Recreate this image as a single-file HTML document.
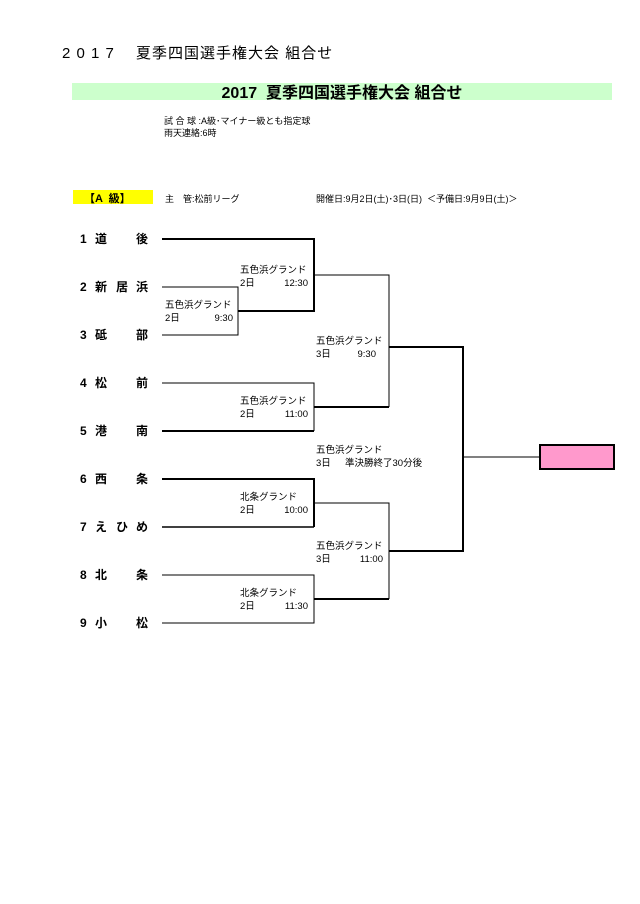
<!DOCTYPE html>
<html><head><meta charset="utf-8"><style>
body{margin:0;background:#fff;width:640px;height:904px;overflow:hidden}
svg{display:block}
text{font-family:"Liberation Sans","Noto Sans CJK JP",sans-serif;fill:#000;white-space:pre}
</style></head><body>
<svg width="640" height="904" xmlns="http://www.w3.org/2000/svg">
<text x="62" y="58" font-size="15" letter-spacing="1">2 0 1 7　 夏季四国選手権大会 組合せ</text>
<rect x="72" y="83" width="540" height="17" fill="#ccffcc"/>
<text x="342" y="98" font-size="16" font-weight="bold" text-anchor="middle">2017  夏季四国選手権大会 組合せ</text>
<text x="164" y="124" font-size="9">試 合 球 :A級･マイナー級とも指定球</text>
<text x="164" y="136" font-size="9">雨天連絡:6時</text>
<rect x="73" y="190" width="80" height="14" fill="#ffff00"/>
<text x="84" y="202" font-size="11" font-weight="bold">【A  級】</text>
<text x="165" y="202" font-size="9">主　管:松前リーグ</text>
<text x="316" y="202" font-size="9">開催日:9月2日(土)･3日(日)  ＜予備日:9月9日(土)＞</text>
<g font-size="12" font-weight="bold">
<text x="80" y="243">1</text><text x="95" y="243">道</text><text x="136" y="243">後</text>
<text x="80" y="291">2</text><text x="95" y="291">新</text><text x="116" y="291">居</text><text x="136" y="291">浜</text>
<text x="80" y="339">3</text><text x="95" y="339">砥</text><text x="136" y="339">部</text>
<text x="80" y="387">4</text><text x="95" y="387">松</text><text x="136" y="387">前</text>
<text x="80" y="435">5</text><text x="95" y="435">港</text><text x="136" y="435">南</text>
<text x="80" y="483">6</text><text x="95" y="483">西</text><text x="136" y="483">条</text>
<text x="80" y="531">7</text><text x="95" y="531">え</text><text x="116" y="531">ひ</text><text x="136" y="531">め</text>
<text x="80" y="579">8</text><text x="95" y="579">北</text><text x="136" y="579">条</text>
<text x="80" y="627">9</text><text x="95" y="627">小</text><text x="136" y="627">松</text>
</g>
<g stroke="#000" fill="none">
<path d="M162 239H314V311H238" stroke-width="2"/>
<path d="M162 287H238V335H162" stroke-width="1"/>
<path d="M314 275H389V407" stroke-width="1"/>
<path d="M238 311V287" stroke-width="1"/>
<path d="M162 383H314V431" stroke-width="1"/>
<path d="M162 431H314M314 407H389" stroke-width="2"/>
<path d="M389 347H463V551H389" stroke-width="2"/>
<path d="M463 457H540" stroke-width="1"/>
<path d="M162 479H314V527" stroke-width="2"/>
<path d="M162 527H314" stroke-width="1.5"/>
<path d="M314 503H389V599" stroke-width="1"/>
<path d="M162 575H314V623H162" stroke-width="1"/>
<path d="M314 599H389" stroke-width="2"/>
</g>
<rect x="540" y="445" width="74" height="24" fill="#ff99cc" stroke="#000" stroke-width="2"/>
<g font-size="9.5">
<text x="240" y="273">五色浜グランド</text><text x="240" y="286">2日</text><text x="308" y="286" text-anchor="end">12:30</text>
<text x="165" y="308">五色浜グランド</text><text x="165" y="321">2日</text><text x="233" y="321" text-anchor="end">9:30</text>
<text x="316" y="344">五色浜グランド</text><text x="316" y="357">3日</text><text x="376" y="357" text-anchor="end">9:30</text>
<text x="240" y="404">五色浜グランド</text><text x="240" y="417">2日</text><text x="308" y="417" text-anchor="end">11:00</text>
<text x="316" y="453">五色浜グランド</text><text x="316" y="466">3日</text><text x="345" y="466">準決勝終了30分後</text>
<text x="240" y="500">北条グランド</text><text x="240" y="513">2日</text><text x="308" y="513" text-anchor="end">10:00</text>
<text x="316" y="549">五色浜グランド</text><text x="316" y="562">3日</text><text x="383" y="562" text-anchor="end">11:00</text>
<text x="240" y="596">北条グランド</text><text x="240" y="609">2日</text><text x="308" y="609" text-anchor="end">11:30</text>
</g>
</svg>
</body></html>
